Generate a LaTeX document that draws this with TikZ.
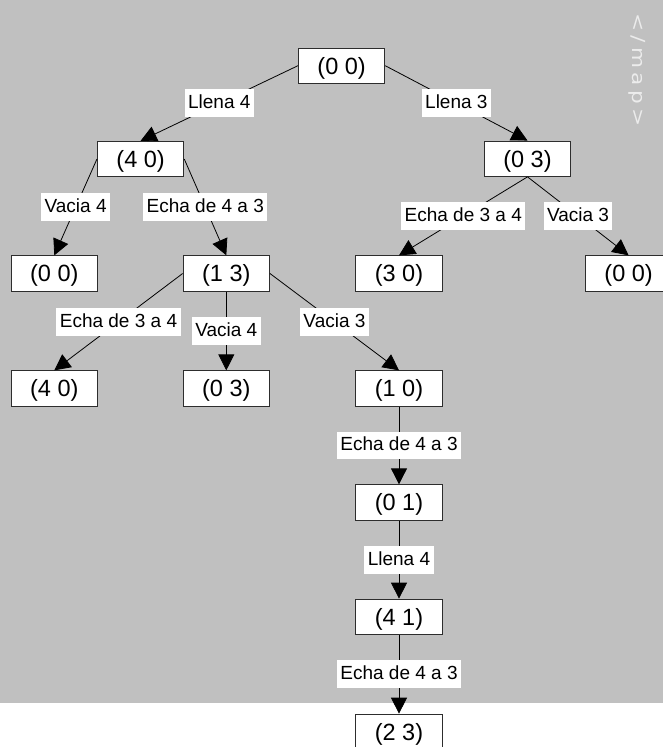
\documentclass[tikz,border=0pt]{standalone}
\usepackage{fontspec}
\setmainfont{Liberation Sans}
\newfontfamily\mapfont[LetterSpace=20]{DejaVu Sans}
\usetikzlibrary{arrows.meta}
\definecolor{bgc}{RGB}{192,192,192}
\definecolor{mapc}{RGB}{236,236,236}
\definecolor{boxc}{RGB}{45,45,45}
\begin{document}
\begin{tikzpicture}[x=1pt,y=-1pt,
  state/.style={draw=boxc, line width=0.8pt, fill=white, minimum width=86.5pt,
    minimum height=35.5pt, inner sep=0pt, text height=16.8pt, text depth=0pt,
    font=\fontsize{23.5}{28}\selectfont},
  lbl/.style={fill=white, inner xsep=3.4pt, inner ysep=0pt, text height=19.3pt,
    text depth=8.4pt, font=\fontsize{19}{23}\selectfont},
  conn/.style={line width=0.8pt, -{Triangle[length=16pt,width=16pt]}}]
\useasboundingbox (0,0) rectangle (663,747);
\fill[bgc] (0,0) rectangle (663,703.3);
\node[rotate=-90, xscale=1.2, anchor=base west, text=mapc,
  font=\mapfont\fontsize{18}{20}\selectfont, inner sep=0pt] (map) at (632,13) {</map>};
% states
\node[state] (root) at (341.6,65.7) {(0 0)};
\node[state] (n40)  at (140.6,159) {(4 0)};
\node[state] (n03)  at (527.5,158.7) {(0 3)};
\node[state] (n00a) at (54.3,273.5) {(0 0)};
\node[state] (n13)  at (226.3,273.5) {(1 3)};
\node[state] (n30)  at (399,273.5) {(3 0)};
\node[state] (n00b) at (628.6,273.5) {(0 0)};
\node[state] (n40b) at (54.3,388.5) {(4 0)};
\node[state] (n03b) at (226.3,388.5) {(0 3)};
\node[state] (n10)  at (399,388.5) {(1 0)};
\node[state] (n01)  at (399,502.5) {(0 1)};
\node[state] (n41)  at (399,616.8) {(4 1)};
\node[state] (n23)  at (399,731.8) {(2 3)};
% transitions
\draw[conn] (root.west) -- node[lbl] (l1) {Llena 4} (n40.north);
\draw[conn] (root.east) -- node[lbl] (l2) {Llena 3} (n03.north);
\draw[conn] (n40.west) -- node[lbl] (l3) {Vacia 4} (n00a.north);
\draw[conn] (n40.east) -- node[lbl] (l4) {Echa de 4 a 3} (n13.north);
\draw[conn] (n03.south) -- node[lbl] (l5) {Echa de 3 a 4} (n30.north);
\draw[conn] (n03.south) -- node[lbl] (l6) {Vacia 3} (n00b.north);
\draw[conn] (n13.west) -- node[lbl] (l7) {Echa de 3 a 4} (n40b.north);
\draw[conn] (n13.south) -- node[lbl] (l8) {Vacia 4} (n03b.north);
\draw[conn] (n13.east) -- node[lbl] (l9) {Vacia 3} (n10.north);
\draw[conn] (n10.south) -- node[lbl] (l10) {Echa de 4 a 3} (n01.north);
\draw[conn] (n01.south) -- node[lbl] (l11) {Llena 4} (n41.north);
\draw[conn] (n41.south) -- node[lbl] (l12) {Echa de 4 a 3} (n23.north);
\end{tikzpicture}
\end{document}
